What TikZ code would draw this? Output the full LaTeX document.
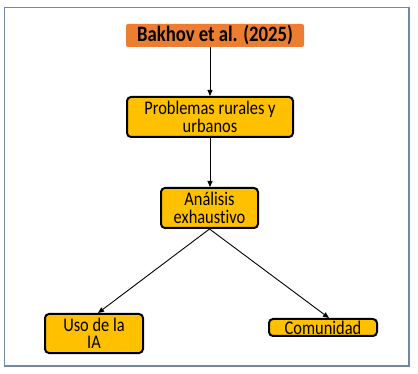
\documentclass[tikz,border=0pt]{standalone}
\usepackage{fontspec}
\setmainfont{Carlito}[Ligatures=NoCommon]
\newfontfamily\boxfont{Carlito}[FakeStretch=0.85, Ligatures=NoCommon]
\usepackage{tikz}
\usetikzlibrary{arrows.meta,positioning}

\definecolor{titleorange}{HTML}{ED7D31}
\definecolor{boxgold}{HTML}{FFC000}
\definecolor{framegray}{HTML}{7189A3}

\begin{document}
\begin{tikzpicture}[
  x=1pt, y=-1pt,
  title/.style={fill=titleorange, rounded corners=2pt, align=center, inner sep=0pt,
    minimum width=178pt, minimum height=23pt, font=\boxfont\fontsize{22}{22}\selectfont\bfseries},
  box/.style={draw, line width=2pt, rounded corners=4pt, fill=boxgold, align=center,
    inner sep=0pt, font=\boxfont\fontsize{19.3}{17.5}\selectfont},
  arrow/.style={-{Triangle[length=6pt,width=5pt]}, line width=0.9pt}
]
\useasboundingbox (0,0) rectangle (418,374);
\draw[framegray, line width=1.5pt] (4.5,7.5) rectangle (409,366);

\node[title] (src) at (215,35.5) {Bakhov et al. (2025)};
\node[box, minimum width=166pt, minimum height=40pt] (prob) at (210,117) {Problemas rurales y\\urbanos};
\node[box, minimum width=97pt, minimum height=40pt] (anal) at (209.5,208) {Análisis\\exhaustivo};
\node[box, minimum width=98pt, minimum height=39pt] (uso) at (94,333.5) {Uso de la\\IA};
\node[box, minimum width=108pt, minimum height=17pt] (com) at (323,327.5) {Comunidad};

\draw[arrow] (src.south -| prob.north) -- (prob.north);
\draw[arrow] (prob.south) -- (prob.south |- anal.north);
\draw[arrow] (anal.south) -- ([xshift=4pt]uso.north);
\draw[arrow] (anal.south) -- ([xshift=6pt]com.north);
\end{tikzpicture}
\end{document}
